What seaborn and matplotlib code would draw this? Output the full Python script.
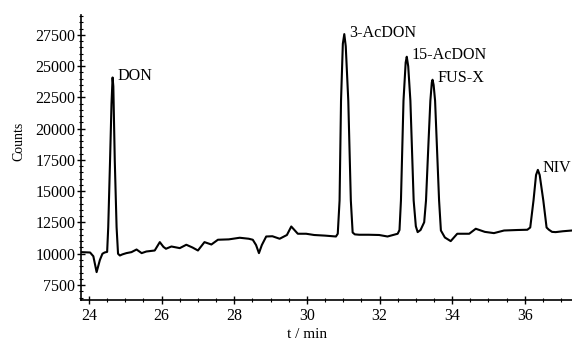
import numpy as np
import pandas as pd
import seaborn as sns
import matplotlib.pyplot as plt
from matplotlib.ticker import MultipleLocator

# DATA
time_min = [23.78, 24.03, 24.12, 24.21, 24.30, 24.37, 24.43, 24.50, 24.53, 24.58, 24.62, 24.65, 24.67,
            24.71, 24.76, 24.80, 24.85, 24.92, 25.03, 25.17, 25.31, 25.45, 25.58, 25.81, 25.95, 26.05,
            26.12, 26.27, 26.50, 26.68, 26.85, 27.00, 27.18, 27.37, 27.55, 27.85, 28.15, 28.40, 28.51,
            28.60, 28.68, 28.76, 28.88, 29.05, 29.25, 29.45, 29.57, 29.75, 29.98, 30.20, 30.50, 30.80,
            30.85, 30.90, 30.94, 30.99, 31.03, 31.07, 31.14, 31.21, 31.26, 31.32, 31.44, 31.70, 31.99,
            32.22, 32.50, 32.55, 32.59, 32.66, 32.72, 32.75, 32.79, 32.85, 32.94, 33.00, 33.05, 33.13,
            33.23, 33.28, 33.35, 33.40, 33.44, 33.46, 33.49, 33.53, 33.64, 33.69, 33.80, 33.96, 34.14,
            34.47, 34.65, 34.90, 35.15, 35.43, 35.80, 36.07, 36.15, 36.24, 36.31, 36.36, 36.41, 36.51,
            36.60, 36.66, 36.75, 36.85, 37.05, 37.30]
counts = [10130, 10100, 9800, 8530, 9500, 10000, 10100, 10150, 12120, 17450, 22000, 24100, 23400,
          17450, 12120, 10000, 9860, 9950, 10050, 10130, 10340, 10050, 10180, 10260, 10930, 10550,
          10400, 10580, 10450, 10720, 10500, 10260, 10930, 10740, 11120, 11150, 11280, 11200, 11120,
          10700, 10050, 10700, 11380, 11400, 11200, 11500, 12180, 11600, 11600, 11500, 11450, 11380,
          11600, 14260, 22240, 26800, 27570, 26600, 22240, 14260, 11700, 11550, 11520, 11520, 11500,
          11380, 11600, 11900, 14260, 22240, 25300, 25760, 25000, 22240, 14260, 12200, 11730, 11900,
          12520, 14260, 19000, 22240, 23700, 23920, 23500, 22240, 14260, 11860, 11300, 11010, 11600,
          11600, 12000, 11750, 11650, 11860, 11900, 11920, 12100, 14260, 16300, 16710, 16300, 14260,
          12100, 11930, 11750, 11730, 11800, 11860]

peak_names = ["DON", "3-AcDON", "15-AcDON", "FUS-X", "NIV"]
peak_times = [24.65, 31.03, 32.75, 33.46, 36.36]
peak_counts = [24100, 27570, 25760, 23920, 16710]

df = pd.DataFrame({"t": time_min, "counts": counts})

sns.set_style("ticks")
plt.rcParams["font.family"] = ["Liberation Serif", "DejaVu Serif"]
plt.rcParams["text.color"] = "black"
plt.rcParams["axes.labelcolor"] = "black"
plt.rcParams["xtick.color"] = "black"
plt.rcParams["ytick.color"] = "black"
plt.rcParams["axes.edgecolor"] = "black"

fig = plt.figure(figsize=(5.72, 3.42), dpi=100)
ax = fig.add_axes([0.1416, 0.1228, 0.8584, 0.8334])

sns.lineplot(x="t", y="counts", data=df, ax=ax, color="black", linewidth=1.5,
             sort=False, estimator=None)

for name, t, c in zip(peak_names, peak_times, peak_counts):
    ax.annotate(name, xy=(t, c), xytext=(3.5, 1), textcoords="offset points",
                ha="left", va="center", fontsize=11.6)

ax.set_xlim(23.78, 37.3)
ax.set_ylim(6300, 29100)
ax.xaxis.set_major_locator(MultipleLocator(2))
ax.xaxis.set_minor_locator(MultipleLocator(0.5))
ax.yaxis.set_minor_locator(MultipleLocator(500))
ax.set_yticks(np.arange(7500, 27501, 2500))
ax.tick_params(axis="x", which="major", direction="inout", length=6, width=1, labelsize=11.5, pad=2.5)
ax.tick_params(axis="y", which="major", direction="inout", length=6, width=1, labelsize=11.5, pad=1)
ax.tick_params(axis="both", which="minor", direction="inout", length=3, width=0.8)

sns.despine(ax=ax)
for s in ["left", "bottom"]:
    ax.spines[s].set_linewidth(1.2)

ax.set_xlabel("t / min", fontsize=11)
ax.set_ylabel("Counts", fontsize=10)
ax.xaxis.set_label_coords((307 - 81) / 491, -0.098)
ax.yaxis.set_label_coords(-0.114, (300 - 141) / 285)

plt.savefig("out.png", dpi=100)
plt.close()
